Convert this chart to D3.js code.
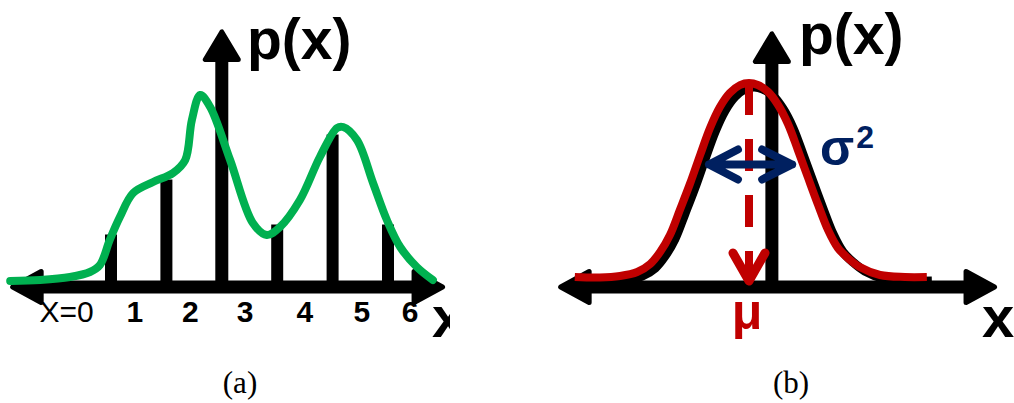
<!DOCTYPE html>
<html>
<head>
<meta charset="utf-8">
<script src="https://cdn.jsdelivr.net/npm/d3@7"></script>
<style>
  html, body { margin: 0; padding: 0; background: #fff; }
  svg { display: block; }
</style>
</head>
<body>
<svg id="chart" width="1014" height="403"></svg>
<script>
// ---- (a) discrete distribution with a smooth density overlay ----
const stemX = [0.5, 1.5, 3.5, 4.5, 5.5];
const stemP = [0.21, 0.43, 0.25, 0.61, 0.25];
const tickPos = [-0.3, 0.93, 1.93, 2.92, 4.0, 5.03, 5.9];
const tickText = ["X=0", "1", "2", "3", "4", "5", "6"];
const densityX = [-1.32, -0.78, -0.24, 0.12, 0.30, 0.48, 0.66, 0.90, 1.26, 1.62, 1.84, 1.96, 2.11, 2.29, 2.65, 3.06, 3.31, 3.55, 3.91, 4.27, 4.58, 4.69, 4.94, 5.23, 5.48, 5.72, 6.02, 6.31];
const densityP = [0.024, 0.028, 0.04, 0.06, 0.088, 0.19, 0.28, 0.376, 0.42, 0.456, 0.508, 0.668, 0.768, 0.72, 0.508, 0.256, 0.208, 0.24, 0.348, 0.52, 0.636, 0.64, 0.588, 0.416, 0.268, 0.16, 0.08, 0.028];
const axisA = [-1.32, 6.53];
const vAxisA = 2.5;

// ---- (b) bell curve with mean and spread ----
const bellX = [-3.35, -2.87, -2.48, -2.15, -1.90, -1.71, -1.52, -1.33, -1.13, -0.94, -0.75, -0.56, -0.37, -0.17, 0, 0.17, 0.37, 0.56, 0.75, 0.94, 1.13, 1.33, 1.52, 1.71, 1.90, 2.13, 2.52, 3.0, 3.42];
const bellP = [0.04, 0.038, 0.044, 0.06, 0.092, 0.14, 0.208, 0.308, 0.416, 0.528, 0.636, 0.72, 0.776, 0.808, 0.816, 0.808, 0.78, 0.728, 0.652, 0.548, 0.44, 0.328, 0.228, 0.156, 0.116, 0.08, 0.048, 0.04, 0.04];
const muX = 0;
const muTop = 0.816;
const sigmaSpan = [-0.77, 0.83];
const sigmaLevel = 0.49;
const axisB = [-3.67, 4.77];
const vAxisB = 0.44;
const axisTop = 1.03;

const svg = d3.select("#chart");
const defs = svg.append("defs");
defs.append("clipPath").attr("id", "clipA").append("rect").attr("x", 0).attr("y", 0).attr("width", 450).attr("height", 403);
defs.append("clipPath").attr("id", "clipB").append("rect").attr("x", 0).attr("y", 0).attr("width", 464).attr("height", 403);

const yScale = d3.scaleLinear().domain([0, 1]).range([287, 37]);
const xA = d3.scaleLinear().domain([0.5, 5.5]).range([111, 388]);
const xB = d3.scaleLinear().domain([0, 1]).range([199, 251]);

const AXIS_W = 13;
const sans = "'Liberation Sans', Arial, sans-serif";

// filled arrow head with softened corners
function arrowHead(g, tipX, tipY, dir, len, half) {
  const pad = 2.5;
  let pts;
  if (dir === "left") pts = [[tipX + pad, tipY], [tipX + len, tipY - half], [tipX + len, tipY + half]];
  else if (dir === "right") pts = [[tipX - pad, tipY], [tipX - len, tipY - half], [tipX - len, tipY + half]];
  else pts = [[tipX, tipY + pad], [tipX - half, tipY + len], [tipX + half, tipY + len]];
  g.append("path")
    .attr("d", d3.line()(pts) + "Z")
    .attr("fill", "#000").attr("stroke", "#000")
    .attr("stroke-width", 5).attr("stroke-linejoin", "round");
}

function drawAxes(g, x, ext, vx, topP) {
  const y0 = yScale(0);
  g.append("line")
    .attr("x1", x(ext[0]) + 20).attr("x2", x(ext[1]) - 20)
    .attr("y1", y0).attr("y2", y0)
    .attr("stroke", "#000").attr("stroke-width", AXIS_W);
  arrowHead(g, x(ext[0]), y0, "left", 31, 15.5);
  arrowHead(g, x(ext[1]), y0, "right", 31, 15.5);
  g.append("line")
    .attr("x1", x(vx)).attr("x2", x(vx))
    .attr("y1", y0).attr("y2", yScale(topP) + 20)
    .attr("stroke", "#000").attr("stroke-width", AXIS_W);
  arrowHead(g, x(vx), yScale(topP), "up", 30, 16.5);
}

// ================= panel (a) =================
const gA = svg.append("g").attr("clip-path", "url(#clipA)");
drawAxes(gA, xA, axisA, vAxisA, axisTop);

gA.selectAll("line.stem")
  .data(stemX.map((v, i) => [v, stemP[i]]))
  .join("line").attr("class", "stem")
  .attr("x1", d => xA(d[0])).attr("x2", d => xA(d[0]))
  .attr("y1", yScale(0)).attr("y2", d => yScale(d[1]))
  .attr("stroke", "#000").attr("stroke-width", 12);

const lineA = d3.line()
  .x(d => xA(d[0])).y(d => yScale(d[1]))
  .curve(d3.curveCatmullRom.alpha(0.5));
gA.append("path")
  .attr("d", lineA(densityX.map((v, i) => [v, densityP[i]])))
  .attr("fill", "none").attr("stroke", "#00b050")
  .attr("stroke-width", 8).attr("stroke-linecap", "round").attr("stroke-linejoin", "round");

gA.selectAll("text.tick")
  .data(tickPos.map((v, i) => [v, tickText[i]]))
  .join("text").attr("class", "tick")
  .attr("x", d => xA(d[0])).attr("y", 322)
  .attr("text-anchor", "middle")
  .attr("font-family", sans).attr("font-size", 30)
  .attr("font-weight", (d, i) => i === 0 ? "normal" : "bold")
  .text(d => d[1]);

gA.append("text").attr("x", 247).attr("y", 59)
  .attr("font-family", sans).attr("font-size", 57).attr("font-weight", "bold")
  .text("p(x)");
gA.append("text").attr("x", 432).attr("y", 337)
  .attr("font-family", sans).attr("font-size", 58).attr("font-weight", "bold")
  .text("x");

// ================= panel (b) =================
const gB = svg.append("g").attr("transform", "translate(550,0)").attr("clip-path", "url(#clipB)");
drawAxes(gB, xB, axisB, vAxisB, axisTop - 0.008);

const lineB = d3.line()
  .x(d => xB(d[0])).y(d => yScale(d[1]))
  .curve(d3.curveCatmullRom.alpha(0.5));
const bellPts = bellX.map((v, i) => [v, bellP[i]]);
// dark drop shadow under the red curve
gB.append("path")
  .attr("d", lineB(bellPts))
  .attr("transform", "translate(5,4)")
  .attr("fill", "none").attr("stroke", "#000")
  .attr("stroke-width", 9).attr("stroke-linejoin", "round");
gB.append("path")
  .attr("d", lineB(bellPts))
  .attr("fill", "none").attr("stroke", "#c00000")
  .attr("stroke-width", 8).attr("stroke-linejoin", "round");

// mean marker: dashed drop line ending in an arrow head on the axis
const mx = xB(muX);
const tipY = yScale(0) - 4;
gB.append("line")
  .attr("x1", mx).attr("x2", mx)
  .attr("y1", yScale(muTop)).attr("y2", tipY)
  .attr("stroke", "#c00000").attr("stroke-width", 8)
  .attr("stroke-dasharray", "32,24");
gB.append("path")
  .attr("d", d3.line()([[mx - 16, tipY - 30], [mx, tipY - 2], [mx + 16, tipY - 30]]))
  .attr("fill", "none").attr("stroke", "#c00000")
  .attr("stroke-width", 9).attr("stroke-linecap", "round").attr("stroke-linejoin", "round");

// spread marker: double-headed arrow
const sy = yScale(sigmaLevel);
const sx0 = xB(sigmaSpan[0]), sx1 = xB(sigmaSpan[1]);
const blue = "#002060";
gB.append("path")
  .attr("d",
    d3.line()([[sx0, sy], [sx1, sy]]) +
    d3.line()([[sx0 + 29, sy - 15], [sx0, sy], [sx0 + 29, sy + 15]]) +
    d3.line()([[sx1 - 30, sy - 15], [sx1, sy], [sx1 - 30, sy + 15]]))
  .attr("fill", "none").attr("stroke", blue)
  .attr("stroke-width", 8).attr("stroke-linecap", "round").attr("stroke-linejoin", "round");

const sig = gB.append("text").attr("x", 270).attr("y", 165)
  .attr("font-family", sans).attr("font-weight", "bold").attr("fill", blue);
sig.append("tspan").attr("font-size", 50).text("σ");
sig.append("tspan").attr("font-size", 32).attr("dy", -17).attr("dx", 2).text("2");

gB.append("text").attr("x", mx - 2).attr("y", 329)
  .attr("text-anchor", "middle")
  .attr("font-family", sans).attr("font-size", 50).attr("font-weight", "bold")
  .attr("fill", "#c00000").text("μ");

gB.append("text").attr("x", 249).attr("y", 54)
  .attr("font-family", sans).attr("font-size", 57).attr("font-weight", "bold")
  .text("p(x)");
gB.append("text").attr("x", 432).attr("y", 337)
  .attr("font-family", sans).attr("font-size", 58).attr("font-weight", "bold")
  .text("x");

// ================= captions =================
const serif = "'Liberation Serif', 'Times New Roman', serif";
svg.append("text").attr("x", 240).attr("y", 393).attr("text-anchor", "middle")
  .attr("font-family", serif).attr("font-size", 31).text("(a)");
svg.append("text").attr("x", 791).attr("y", 393).attr("text-anchor", "middle")
  .attr("font-family", serif).attr("font-size", 31).text("(b)");
</script>
</body>
</html>
